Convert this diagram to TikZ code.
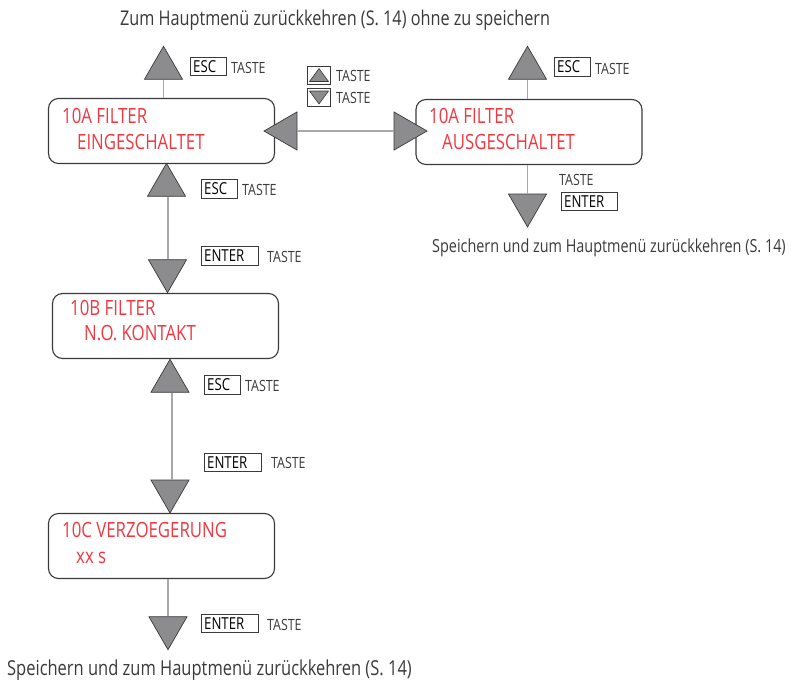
\documentclass[tikz,border=0pt]{standalone}
\usepackage{fontspec}
\setmainfont[FakeStretch=0.8]{Open Sans}
\usetikzlibrary{shapes.geometric}
\definecolor{menured}{HTML}{EF3840}
\definecolor{arrowgray}{HTML}{8C8C8E}
\definecolor{framegray}{HTML}{3A3A3A}
\definecolor{stemgray}{HTML}{A8A8A8}
\tikzset{
  menubox/.style={draw=framegray, line width=1.1pt, rounded corners=10pt,
    minimum width=226pt, minimum height=65pt, inner sep=0pt},
  redline/.style={text=menured, font=\fontsize{21}{21}\selectfont, anchor=base west, inner sep=0pt},
  tri/.style={regular polygon, regular polygon sides=3, minimum size=44pt,
    inner sep=0pt, fill=arrowgray, draw=framegray, line width=0.7pt},
  triup/.style={tri},
  tridown/.style={tri, shape border rotate=180},
  trileft/.style={tri, shape border rotate=90},
  triright/.style={tri, shape border rotate=270},
  stem/.style={draw=stemgray, line width=1.2pt},
  keybox/.style={draw=framegray, line width=0.9pt, inner sep=0pt, minimum height=18.5pt,
    anchor=west, text width=#1, align=left, font=\fontsize{16.5}{16}\selectfont},
  keylbl/.style={anchor=base west, inner sep=0pt, text=framegray, font=\fontsize{15.5}{16}\selectfont},
  note/.style={anchor=base west, inner sep=0pt, text=framegray, font=\fontsize{#1}{20}\selectfont},
  minibox/.style={draw=framegray, line width=0.9pt, minimum width=23pt, minimum height=18pt, inner sep=0pt},
  minitri/.style={fill=arrowgray, draw=framegray, line width=0.6pt, line join=round}
}
\begin{document}
\begin{tikzpicture}[x=1pt,y=-1pt]
\useasboundingbox (0,0) rectangle (793,680);

% status displays
\node[menubox] (a1) at (161.5,131) {};
\node[redline] (a1l1) at (62,123) {10A FILTER};
\node[redline] (a1l2) at (77,149) {EINGESCHALTET};

\node[menubox] (a2) at (529,132) {};
\node[redline] (a2l1) at (429,123) {10A FILTER};
\node[redline] (a2l2) at (442,149) {AUSGESCHALTET};

\node[menubox] (b) at (165.5,326) {};
\node[redline] (bl1) at (70,315) {10B FILTER};
\node[redline] (bl2) at (84,340) {N.O. KONTAKT};

\node[menubox] (c) at (161.5,546) {};
\node[redline] (cl1) at (62,537) {10C VERZOEGERUNG};
\node[redline] (cl2) at (76,563) {xx s};

% arrow heads
\node[triup]    (t1) at (163.5,68.3) {};
\node[triup]    (t2) at (166.5,185.3) {};
\node[tridown]  (t3) at (167.5,270.7) {};
\node[triup]    (t4) at (170,381.3) {};
\node[tridown]  (t5) at (170,491) {};
\node[tridown]  (t6) at (168,627.7) {};
\node[triup]    (t7) at (527.5,68.3) {};
\node[tridown]  (t8) at (527.5,205) {};
\node[trileft]  (t9) at (286,131) {};
\node[triright] (t10) at (405,131) {};

% connecting stems
\draw[stem] (t1.side 2) -- (t1.side 2 |- a1.north);
\draw[stem] (t7.side 2) -- (t7.side 2 |- a2.north);
\draw[stem] (t8.side 2) -- (t8.side 2 |- a2.south);
\draw[stem] ([xshift=1.5pt]t2.side 2) -- ([xshift=1.5pt]t2.side 2 |- t3.side 2);
\draw[stem] ([xshift=2pt]t4.side 2) -- ([xshift=2pt]t4.side 2 |- t5.side 2);
\draw[stem] (t6.side 2) -- (t6.side 2 |- c.south);
\draw[stem] (t9.side 2) -- (t10.side 2);

% key hints
\node[keybox=36pt] (k1) at (190,66.5) {\,ESC};
\node[keylbl] (k1t) at (231,73) {TASTE};
\node[keybox=36pt] (k2) at (201,189) {\,ESC};
\node[keylbl] (k2t) at (242,195) {TASTE};
\node[keybox=57pt] (k3) at (201,256) {\,ENTER};
\node[keylbl] (k3t) at (267,262) {TASTE};
\node[keybox=36pt] (k4) at (204,385) {\,ESC};
\node[keylbl] (k4t) at (245,391) {TASTE};
\node[keybox=57pt] (k5) at (204,462.5) {\,ENTER};
\node[keylbl] (k5t) at (271,468) {TASTE};
\node[keybox=57pt] (k6) at (201,623.5) {\,ENTER};
\node[keylbl] (k6t) at (267,630) {TASTE};
\node[keybox=36pt] (k7) at (554,67) {\,ESC};
\node[keylbl] (k7t) at (595,74) {TASTE};
\node[keylbl] (k8t) at (559,185) {TASTE};
\node[keybox=56pt] (k8) at (561,201.5) {\,ENTER};

% up / down key symbols
\node[minibox] (mu) at (319,75) {};
\draw[minitri] ([xshift=-9.5pt,yshift=-6.5pt]mu.center) -- ([xshift=9.5pt,yshift=-6.5pt]mu.center)
  -- ([yshift=6.5pt]mu.center) -- cycle;
\node[keylbl] (mul) at (336,81) {TASTE};
\node[minibox] (md) at (319,97.5) {};
\draw[minitri] ([xshift=-9.5pt,yshift=6.5pt]md.center) -- ([xshift=9.5pt,yshift=6.5pt]md.center)
  -- ([yshift=-6.5pt]md.center) -- cycle;
\node[keylbl] (mdl) at (336,103) {TASTE};

% destination notes
\node[note=20.3, anchor=base] (top) at (335,25) {Zum Hauptmenü zurückkehren (S. 14) ohne zu speichern};
\node[note=18] (rnote) at (432,252) {Speichern und zum Hauptmenü zurückkehren (S. 14)};
\node[note=20.6] (bnote) at (7,675) {Speichern und zum Hauptmenü zurückkehren (S. 14)};
\end{tikzpicture}
\end{document}
